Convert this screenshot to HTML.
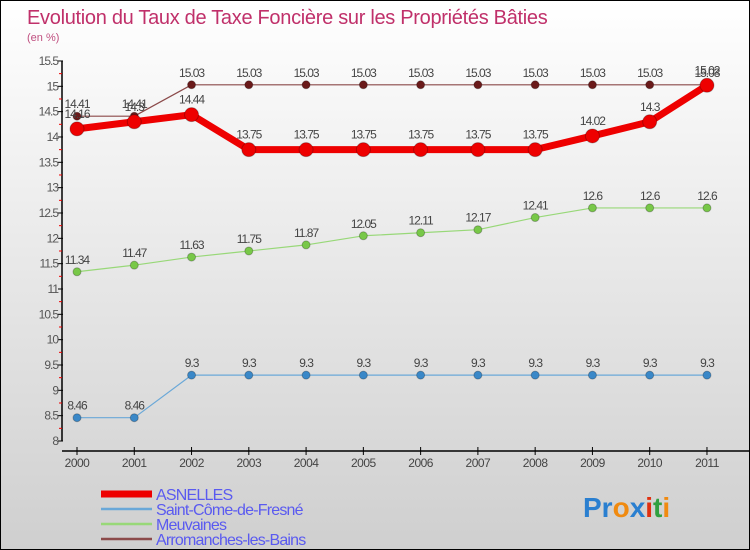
<!DOCTYPE html>
<html><head><meta charset="utf-8"><style>
body{margin:0;}
#wrap{position:relative;width:748px;height:548px;border:1px solid #000;background:linear-gradient(#ffffff,#cfcfcf);font-family:"Liberation Sans",sans-serif;overflow:hidden}
svg text{font-family:"Liberation Sans",sans-serif}
</style></head><body>
<div id="wrap">
<svg id="chart" width="748" height="548">
<text x="26" y="23" font-size="20" fill="#c0306a" letter-spacing="-0.3">Evolution du Taux de Taxe Foncière sur les Propriétés Bâties</text>
<text x="26" y="40" font-size="11" fill="#c05080">(en %)</text>
<g id="axes"></g>
<g id="series"></g>
<g id="legend"></g>
<text x="582" y="516" font-size="28" font-weight="bold"><tspan fill="#2a7fd0">Pr</tspan><tspan fill="#f08a10">o</tspan><tspan fill="#2a7fd0">x</tspan><tspan fill="#e03010">i</tspan><tspan fill="#30a040">t</tspan><tspan fill="#f08a10">i</tspan></text>
</svg>
</div>
<script>
const years=[2000,2001,2002,2003,2004,2005,2006,2007,2008,2009,2010,2011];
const asnelles=[14.16,14.3,14.44,13.75,13.75,13.75,13.75,13.75,13.75,14.02,14.3,15.02];
const saintCome=[8.46,8.46,9.3,9.3,9.3,9.3,9.3,9.3,9.3,9.3,9.3,9.3];
const meuvaines=[11.34,11.47,11.63,11.75,11.87,12.05,12.11,12.17,12.41,12.6,12.6,12.6];
const arromanches=[14.41,14.41,15.03,15.03,15.03,15.03,15.03,15.03,15.03,15.03,15.03,15.03];
const yTicks=[8,8.5,9,9.5,10,10.5,11,11.5,12,12.5,13,13.5,14,14.5,15,15.5];
const seriesNames=["ASNELLES","Saint-Côme-de-Fresné","Meuvaines","Arromanches-les-Bains"];

const NS="http://www.w3.org/2000/svg";
const X0=76,XSTEP=57.27,Y0=440,YUNIT=50.67,AXX=61,AXY=450;
function xs(i){return X0+i*XSTEP;}
function ys(v){return Y0-(v-8)*YUNIT;}
function mk(tag,attrs,parent){const e=document.createElementNS(NS,tag);for(const k in attrs)e.setAttribute(k,attrs[k]);parent.appendChild(e);return e;}
const axes=document.getElementById('axes'),sg=document.getElementById('series'),lg=document.getElementById('legend');

let yl=mk('line',{x1:AXX,y1:ys(15.5),x2:AXX,y2:ys(8),stroke:'#000','stroke-width':1.5},axes);


yTicks.forEach((t,i)=>{
  const y=ys(t);
  mk('line',{x1:AXX-4,y1:y,x2:AXX+1,y2:y,stroke:'#000'},axes);
  if(i<yTicks.length-1){mk('line',{x1:AXX-3,y1:ys(t+0.25),x2:AXX,y2:ys(t+0.25),stroke:'#e00'},axes);}
  const tx=mk('text',{x:AXX-4,y:y+4,'font-size':12,fill:'#555','text-anchor':'end','letter-spacing':'-1'},axes);
  tx.textContent=String(t);
  
  
});
let xl=mk('line',{x1:AXX,y1:AXY,x2:748,y2:AXY,stroke:'#000','stroke-width':1.5},axes);


years.forEach((yr,i)=>{
  mk('line',{x1:xs(i),y1:AXY-4,x2:xs(i),y2:AXY+4,stroke:'#000'},axes);
  const tx=mk('text',{x:xs(i),y:AXY+16,'font-size':12,fill:'#444','text-anchor':'middle','letter-spacing':'-0.5'},axes);
  tx.textContent=String(yr);
  
  
});

function drawSeries(vals,color,width,r,ptFill,name){
  const g=mk('g',{},sg);
  
  
  const pts=vals.map((v,i)=>xs(i)+','+ys(v)).join(' ');
  mk('polyline',{points:pts,fill:'none',stroke:color,'stroke-width':width,'stroke-linejoin':'round'},g);
  vals.forEach((v,i)=>{
    const c=mk('circle',{cx:xs(i),cy:ys(v),r:r,fill:ptFill,stroke:'rgba(0,0,0,0.25)'},g);
    
    
    const t=mk('text',{x:xs(i),y:ys(v)-8-(r>5?3:0),'font-size':12,fill:'#444','text-anchor':'middle','letter-spacing':'-1'},g);
    t.textContent=String(v);
    
    
  });
}
drawSeries(arromanches,'#8b4a4a',1.2,4,'#6a1a1a','series-arromanches');
drawSeries(saintCome,'#6aa8d8',1.2,4,'#3a88c8','series-saint-come');
drawSeries(meuvaines,'#98d878',1.2,4,'#78c848','series-meuvaines');
drawSeries(asnelles,'#ee0000',7,7,'#ee0000','series-asnelles');

const legColors=['#ee0000','#6aa8d8','#98d878','#8b4a4a'];
const legW=[7,2.5,2.5,2.5];
seriesNames.forEach((n,i)=>{
  const y=493+i*15;
  const g=mk('g',{},lg);
  
  
  mk('line',{x1:100,y1:y,x2:151,y2:y,stroke:legColors[i],'stroke-width':legW[i]},g);
  const t=mk('text',{x:155,y:y+6,'font-size':16,fill:'#5a5af0','letter-spacing':'-0.8'},g);
  t.textContent=n;
});
</script>
</body></html>
